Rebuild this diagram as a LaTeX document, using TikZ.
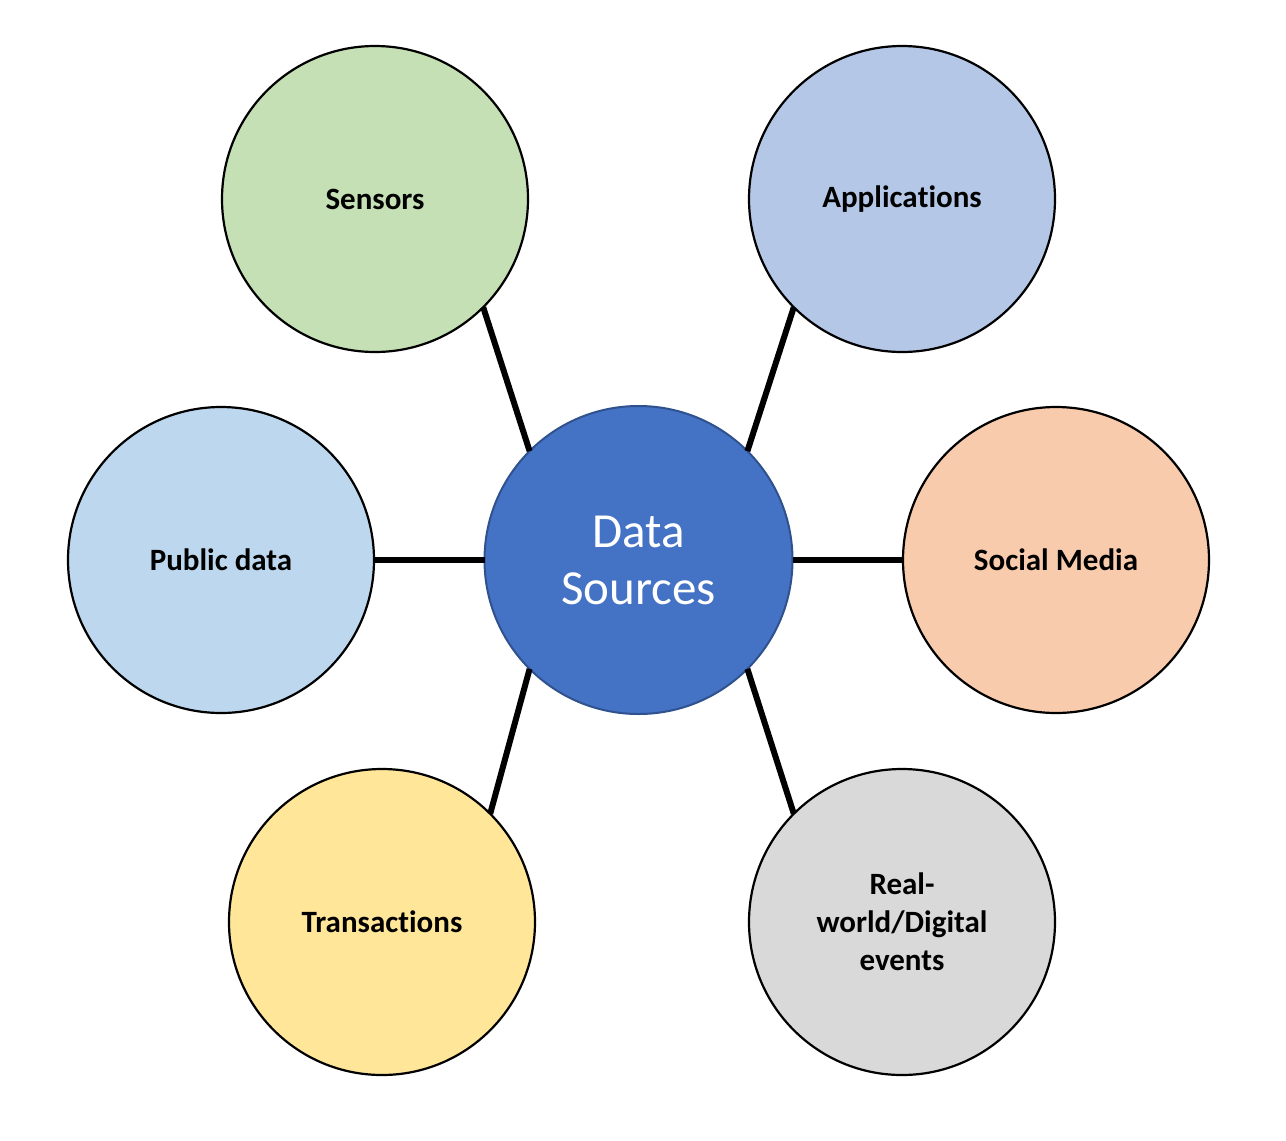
\documentclass[tikz,border=0pt]{standalone}
\usepackage{fontspec}
\setmainfont{Carlito}[Ligatures={NoCommon,NoRare,NoContextual}]
\usepackage{xcolor}
\usetikzlibrary{positioning}

\definecolor{hubblue}{HTML}{4472C4}
\definecolor{hubedge}{HTML}{2F528F}
\definecolor{sensgreen}{HTML}{C5E0B4}
\definecolor{appblue}{HTML}{B4C7E7}
\definecolor{pubblue}{HTML}{BDD7EE}
\definecolor{socorange}{HTML}{F8CBAD}
\definecolor{transyellow}{HTML}{FFE699}
\definecolor{evgray}{HTML}{D9D9D9}

\tikzset{
  source/.style={circle, draw=black, line width=2.2pt, minimum size=306pt,
    inner sep=0pt, outer sep=0pt, align=center,
    font=\fontsize{31}{38}\selectfont\bfseries},
  hub/.style={circle, draw=hubedge, fill=hubblue, line width=2pt,
    minimum size=308pt, inner sep=0pt, outer sep=0pt, align=center,
    text=white, font=\fontsize{49}{57}\selectfont},
  link/.style={line width=6pt, black}
}

\begin{document}
\begin{tikzpicture}[x=1pt, y=-1pt]
      \useasboundingbox (0,0) rectangle (1286,1141);
      % centre
      \node[hub] (hub) at (638.5,560) {Data\\Sources};
      % sources
      \node[source, fill=sensgreen] (sensors) at (375,199) {Sensors};
      \node[source, fill=appblue] (apps) at (902,199) {Applica\kern0pt tions};
      \node[source, fill=pubblue] (public) at (221,560) {Public data};
      \node[source, fill=socorange] (social) at (1056,560) {Social Media};
      \node[source, fill=transyellow] (trans) at (382,922) {Transac\kern0pt tions};
      \node[source, fill=evgray] (events) at (902,922) {Real-\\world/Digital\\events};
      % links
      \draw[link] (sensors.-45) -- (hub.135);
      \draw[link] (apps.225) -- (hub.45);
      \draw[link] (public.east) -- (hub.west);
      \draw[link] (social.west) -- (hub.east);
      \draw[link] (trans.45) -- (hub.225);
      \draw[link] (events.135) -- (hub.-45);
\end{tikzpicture}
\end{document}
